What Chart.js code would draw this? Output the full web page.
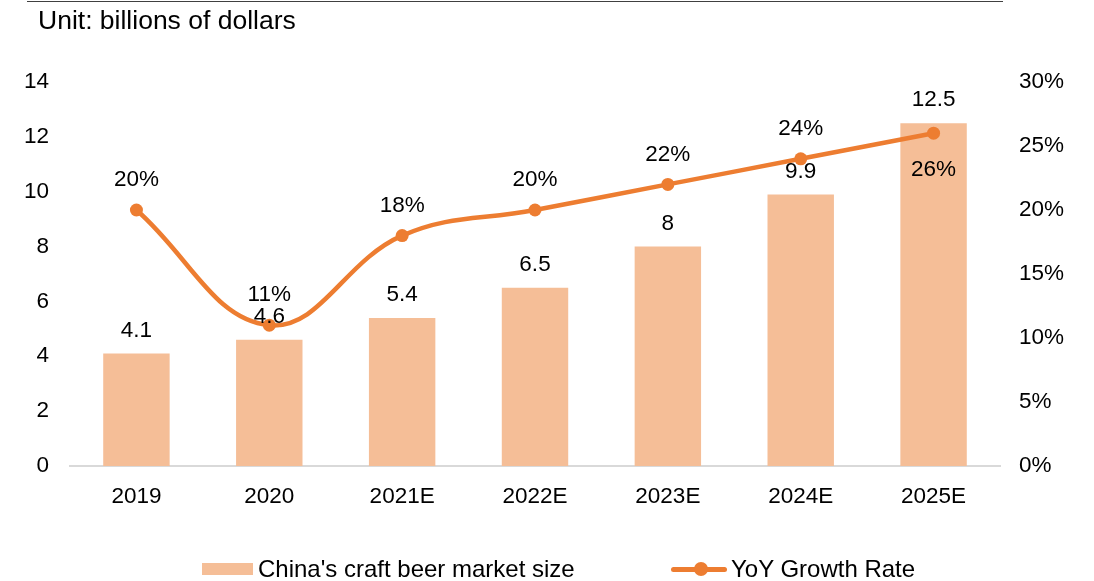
<!DOCTYPE html>
<html>
<head>
<meta charset="utf-8">
<script src="https://cdn.jsdelivr.net/npm/chart.js@4/dist/chart.umd.min.js"></script>
<style>
  html, body { margin: 0; padding: 0; background: #fff; }
  body { width: 1094px; height: 581px; position: relative; overflow: hidden; font-family: "Liberation Sans", Arial, sans-serif; color: #000; }
  #topline { position: absolute; left: 27px; top: 1px; width: 976px; height: 0; border-top: 1.5px solid #404040; }
  #unit { position: absolute; left: 38px; top: 6px; font-size: 26.5px; line-height: 28px; white-space: nowrap; }
  #wrap { position: absolute; left: 0; top: 0; width: 1094px; height: 581px; }
  .leg { position: absolute; top: 555px; font-size: 24px; line-height: 28px; white-space: nowrap; }
  .sw { position: absolute; }
</style>
</head>
<body>
<div id="wrap"><canvas id="c" width="1094" height="581"></canvas></div>
<div id="topline"></div>
<div id="unit">Unit: billions of dollars</div>
<div class="sw" style="left:202px;top:563px;width:51px;height:12px;background:#F5BE97;"></div>
<div class="leg" style="left:258px;">China's craft beer market size</div>
<div class="sw" style="left:671px;top:567px;width:56px;height:5px;background:#ED7D31;border-radius:2.5px;"></div>
<div class="sw" style="left:694px;top:562px;width:14px;height:14px;background:#ED7D31;border-radius:50%;"></div>
<div class="leg" style="left:731px;">YoY Growth Rate</div>
<script>
const categories = ["2019", "2020", "2021E", "2022E", "2023E", "2024E", "2025E"];
const marketSize = [4.1, 4.6, 5.4, 6.5, 8, 9.9, 12.5];
const growthRate = [20, 11, 18, 20, 22, 24, 26];
const leftTicks = [0, 2, 4, 6, 8, 10, 12, 14];
const rightTicks = [0, 5, 10, 15, 20, 25, 30];

const FONT = { family: "'Liberation Sans', Arial, sans-serif", size: 22.5 };

const labelPlugin = {
  id: 'valueLabels',
  afterDatasetsDraw(chart) {
    const ctx = chart.ctx;
    ctx.save();
    ctx.font = `${FONT.size}px ${FONT.family}`;
    ctx.fillStyle = '#000';
    ctx.textAlign = 'center';
    ctx.textBaseline = 'middle';
    const barMeta = chart.getDatasetMeta(0);
    barMeta.data.forEach((el, i) => {
      ctx.fillText(String(marketSize[i]), el.x, el.y - 23);
    });
    const lineMeta = chart.getDatasetMeta(1);
    lineMeta.data.forEach((el, i) => {
      const below = i === growthRate.length - 1;
      ctx.fillText(growthRate[i] + '%', el.x, below ? el.y + 37 : el.y - 30);
    });
    ctx.restore();
  }
};

new Chart(document.getElementById('c'), {
  data: {
    labels: categories,
    datasets: [
      {
        type: 'bar',
        label: "China's craft beer market size",
        data: marketSize,
        backgroundColor: '#F5BE97',
        yAxisID: 'y',
        order: 2,
        barPercentage: 0.5,
        categoryPercentage: 1.0
      },
      {
        type: 'line',
        label: 'YoY Growth Rate',
        data: growthRate,
        borderColor: '#ED7D31',
        backgroundColor: '#ED7D31',
        borderWidth: 4.5,
        pointRadius: 6.5,
        pointHoverRadius: 6.5,
        pointBackgroundColor: '#ED7D31',
        pointBorderWidth: 0,
        tension: 0.4,
        yAxisID: 'y1',
        order: 1
      }
    ]
  },
  options: {
    responsive: false,
    animation: false,
    events: [],
    layout: { padding: { top: 82, bottom: 0, left: 0, right: 0 } },
    plugins: { legend: { display: false }, tooltip: { enabled: false } },
    scales: {
      x: {
        grid: { display: false },
        border: { display: true, color: '#D9D9D9', width: 2 },
        ticks: { font: FONT, color: '#000', padding: 9 },
        afterFit(s) { s.height = 115; }
      },
      y: {
        position: 'left',
        min: 0, max: 14,
        afterBuildTicks(s) { s.ticks = leftTicks.map(v => ({ value: v })); },
        grid: { display: false, drawTicks: false },
        border: { display: false },
        ticks: { font: FONT, color: '#000', padding: 21 },
        afterFit(s) { s.width = 70; }
      },
      y1: {
        position: 'right',
        min: 0, max: 30,
        afterBuildTicks(s) { s.ticks = rightTicks.map(v => ({ value: v })); },
        grid: { display: false, drawTicks: false },
        border: { display: false },
        ticks: { font: FONT, color: '#000', padding: 19, callback: v => v + '%' },
        afterFit(s) { s.width = 94; }
      }
    }
  },
  plugins: [labelPlugin]
});
</script>
</body>
</html>
